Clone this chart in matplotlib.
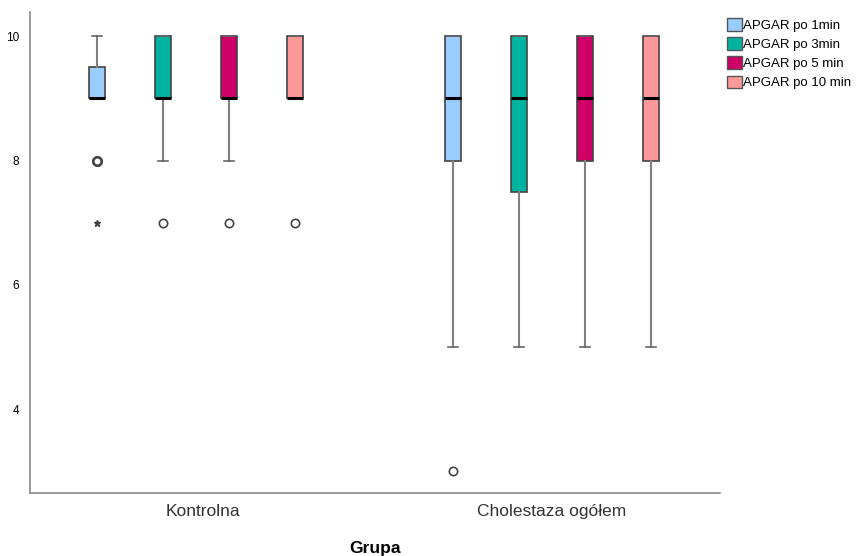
import numpy as np
import matplotlib.pyplot as plt
from matplotlib.patches import Patch

plt.rcParams['font.family'] = ['Liberation Sans', 'DejaVu Sans']

groups = ['Kontrolna', 'Cholestaza ogółem']
series = ['APGAR po 1min', 'APGAR po 3min', 'APGAR po 5 min', 'APGAR po 10 min']
colors = ['#99CCFF', '#00B2A0', '#CC0066', '#FF9999']

# per group, per series: whislo, q1, med, q3, whishi
kontrolna = [
    [9, 9, 9, 9.5, 10],
    [8, 9, 9, 10, 10],
    [8, 9, 9, 10, 10],
    [9, 9, 9, 10, 10],
]
cholestaza = [
    [5, 8, 9, 10, 10],
    [5, 7.5, 9, 10, 10],
    [5, 8, 9, 10, 10],
    [5, 8, 9, 10, 10],
]
# outliers (circles) and extremes (stars)
kontrolna_out = [[8, 8], [7], [7], [7]]
kontrolna_ext = [[7], [], [], []]
cholestaza_out = [[3], [], [], []]
cholestaza_ext = [[], [], [], []]

fig = plt.figure(figsize=(8.62, 5.56), dpi=100)
ax = fig.add_axes([30/862, 1-493/556, 690/862, 481/556])

spacing = 0.185
width = 0.046
offsets = (np.arange(4) - 1.5) * spacing

for g, (stats, outs, exts) in enumerate([(kontrolna, kontrolna_out, kontrolna_ext),
                                        (cholestaza, cholestaza_out, cholestaza_ext)]):
    for i in range(4):
        lo, q1, med, q3, hi = stats[i]
        pos = g + offsets[i]
        st = dict(whislo=lo, q1=q1, med=med, q3=q3, whishi=hi, fliers=[])
        ax.bxp([st], positions=[pos], widths=width, patch_artist=True,
               showfliers=False, manage_ticks=False,
               boxprops=dict(facecolor=colors[i], edgecolor='#444444', linewidth=1.2),
               medianprops=dict(color='black', linewidth=2.2, solid_capstyle='butt'),
               whiskerprops=dict(color='#808080', linewidth=1.5),
               capprops=dict(color='#666666', linewidth=1.2),
               capwidths=width * 0.6)
        if outs[i]:
            n = len(outs[i])
            ax.plot([pos] * n, outs[i], 'o', ms=6, mfc='white', mec='#444444',
                    mew=1.2 * (1.5 if n > 1 else 1), zorder=5)
        if exts[i]:
            ax.plot([pos] * len(exts[i]), exts[i], '*', ms=5, color='#444444', zorder=5)

ax.set_xlim(-0.466, 1.472)
ax.set_ylim(2.65, 10.39)
ax.set_yticks([4, 6, 8, 10])
ax.set_xticks([0.02, 1.0])
ax.set_xticklabels(groups, fontsize=12.5, color='#333333')
ax.tick_params(axis='y', length=0, labelsize=8.5, pad=8)
ax.tick_params(axis='x', length=0, pad=8)
for s in ['top', 'right']:
    ax.spines[s].set_visible(False)
for s in ['left', 'bottom']:
    ax.spines[s].set_color('#888888')
    ax.spines[s].set_linewidth(1.2)

fig.text(375/862, 1-548/556, 'Grupa', fontsize=12.5, fontweight='bold',
         ha='center', va='center')

handles = [Patch(facecolor=c, edgecolor='#555555', linewidth=1.0) for c in colors]
fig.legend(handles, series, loc='upper left', bbox_to_anchor=(718/862, 1-9/556),
           frameon=False, fontsize=9.5, handlelength=1.1, handleheight=1.1,
           handletextpad=0.1, labelspacing=0.4, borderpad=0.2)

fig.savefig('out.png', dpi=100)
